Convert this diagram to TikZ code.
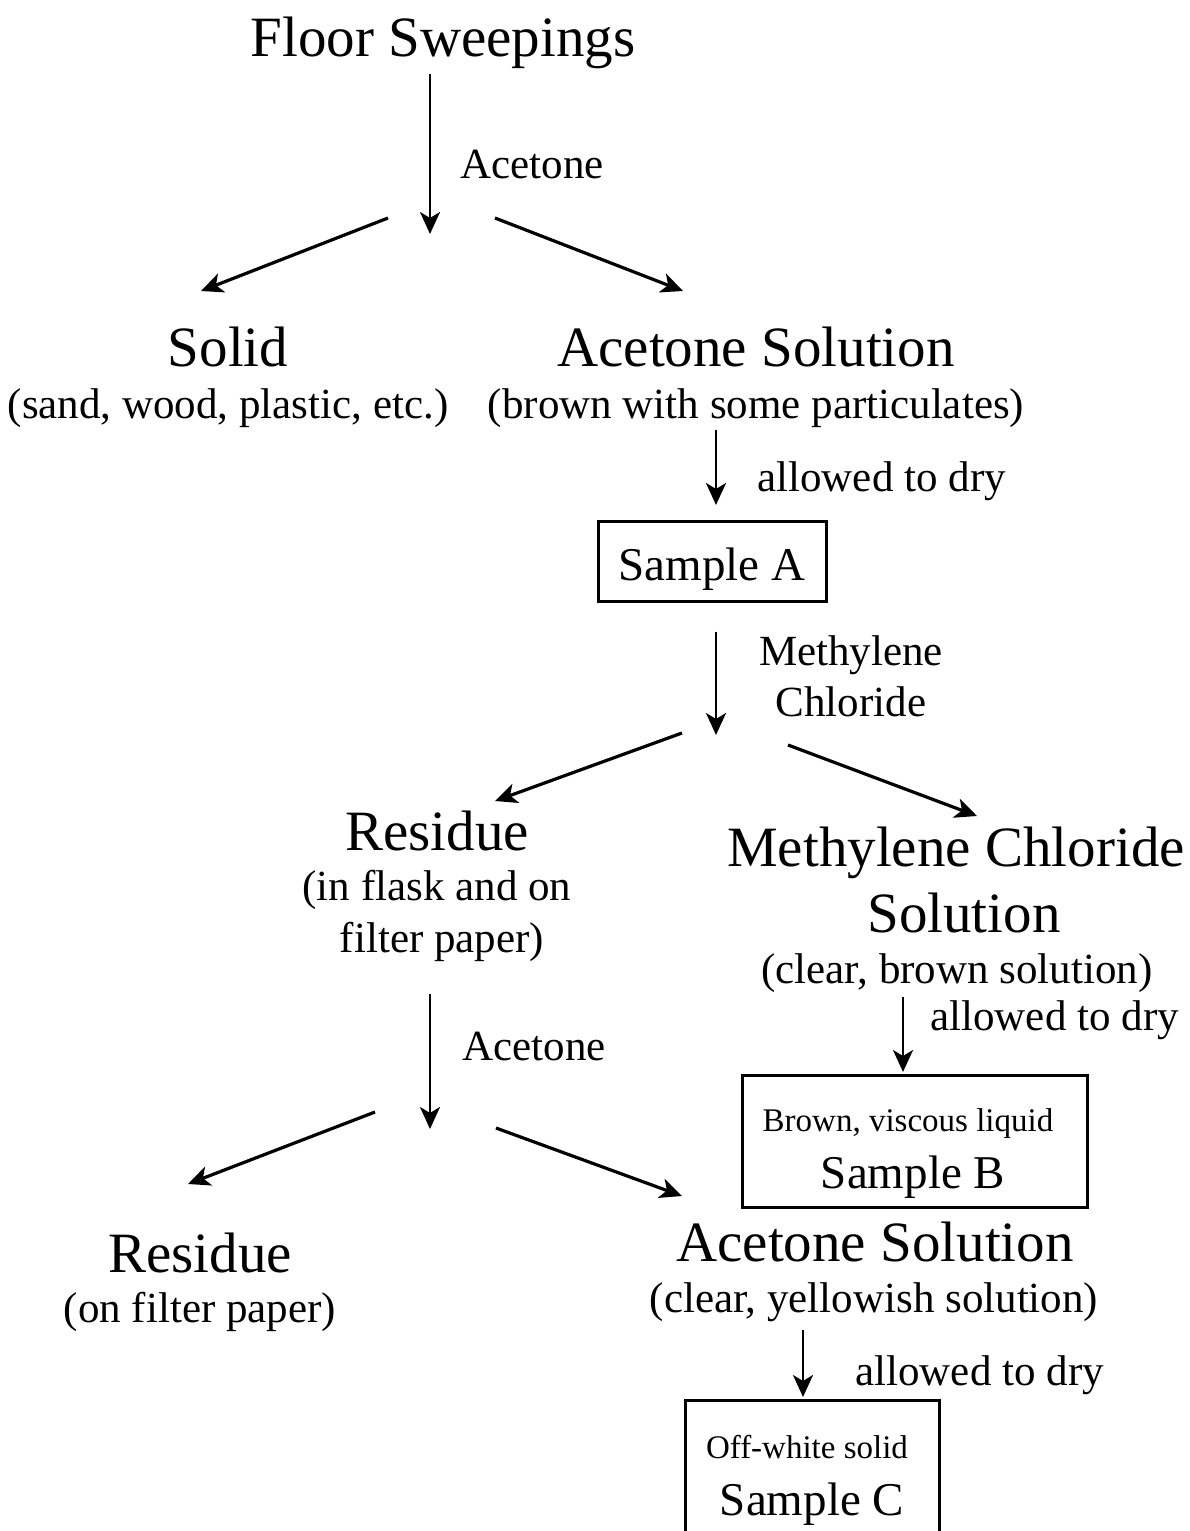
\documentclass[tikz,border=0pt]{standalone}
\usepackage{fontspec}
\setmainfont{Liberation Serif}
\usetikzlibrary{arrows.meta}

\begin{document}
\begin{tikzpicture}[x = 0.5pt, y = -0.5pt,
  big/.style = {font = \fontsize{28.5}{30}\selectfont, inner sep = 0pt, anchor = base},
  mid/.style = {font = \fontsize{21.5}{24}\selectfont, inner sep = 0pt, anchor = base},
  smp/.style = {font = \fontsize{23.5}{26}\selectfont, inner sep = 0pt, anchor = base},
  note/.style = {font = \fontsize{16.5}{18}\selectfont, inner sep = 0pt, anchor = base},
  arr/.style = {-{Stealth[length = 11pt, width = 10pt, inset = 3pt]}, line width = 1.4pt},
  fork/.style = {-{Stealth[length = 11pt, width = 10pt, inset = 3pt]}, line width = 1.6pt},
  box/.style = {draw, line width = 1.5pt, inner sep = 0pt}]
  \useasboundingbox (0, 0) rectangle (1189, 1531);
  \clip (0, 0) rectangle (1189, 1531);

  % first split
  \node[big] (fs) at (443, 56) {Floor Sweepings};
  \node[mid, anchor = base west] (ac1) at (460, 178) {Acetone};
  \node[big] (solid) at (228, 366) {Solid};
  \node[mid] (sand) at (228, 418) {(sand, wood, plastic, etc.)};
  \node[big] (asol) at (756, 366) {Acetone Solution};
  \node[mid] (brown) at (756, 418) {(brown with some particulates)};
  \coordinate (f1) at (430, 234);
  \coordinate (f1l) at (388, 218);
  \coordinate (f1r) at (495, 218);
  \coordinate (t1l) at (201, 291);
  \coordinate (t1r) at (683, 291);
  \draw[arr, shorten <= 2.5pt] (fs.south -| f1) -- (f1);
  \draw[fork] (f1l) -- (t1l);
  \draw[fork] (f1r) -- (t1r);

  % sample A
  \node[mid, anchor = base west] (dry1) at (757, 491) {allowed to dry};
  \node[box, minimum width = 114pt, minimum height = 40pt] (sa) at (712, 561) {};
  \node[smp] (saT) at (712, 580) {Sample A};
  \coordinate (a2) at (716, 505);
  \draw[arr, shorten <= 1pt] (brown.south -| a2) -- (a2);

  % second split
  \node[mid] (mc1) at (851, 665) {Methylene};
  \node[mid] (mc2) at (851, 716) {Chloride};
  \coordinate (f2) at (716, 735);
  \coordinate (f2l) at (682, 733);
  \coordinate (f2r) at (788, 745);
  \coordinate (t2l) at (495, 801);
  \coordinate (t2r) at (977, 816);
  \draw[arr, shorten <= 14.5pt] (sa.south -| f2) -- (f2);
  \draw[fork] (f2l) -- (t2l);
  \draw[fork] (f2r) -- (t2r);

  \node[big] (res) at (437, 850) {Residue};
  \node[mid] (fl1) at (437, 900) {(in flask and on};
  \node[mid] (fl2) at (442, 952) {filter paper)};
  \node[big] (mcs) at (956, 866) {Methylene Chloride};
  \node[big] (sol) at (964, 932) {Solution};
  \node[mid] (cbs) at (957, 983) {(clear, brown solution)};

  % sample B
  \node[mid, anchor = base west] (dry2) at (930, 1030) {allowed to dry};
  \node[box, minimum width = 172.5pt, minimum height = 66pt] (sb) at (914.5, 1141) {};
  \node[note] (bvl) at (908, 1131) {Brown, viscous liquid};
  \node[smp] (sbT) at (913, 1188) {Sample B};
  \coordinate (a5) at (903, 1072);
  \draw[arr, shorten <= 2pt] (cbs.south -| a5) -- (a5);

  % third split
  \node[mid, anchor = base west] (ac3) at (462, 1060) {Acetone};
  \coordinate (f3) at (430, 1129);
  \coordinate (f3l) at (375, 1112);
  \coordinate (f3r) at (496, 1128);
  \coordinate (t3l) at (188, 1184);
  \coordinate (t3r) at (682, 1196);
  \draw[arr, shorten <= 16pt] (fl2.south -| f3) -- (f3);
  \draw[fork] (f3l) -- (t3l);
  \draw[fork] (f3r) -- (t3r);

  \node[big] (res2) at (200, 1272) {Residue};
  \node[mid] (ofp) at (200, 1322) {(on filter paper)};
  \node[big] (asol2) at (875, 1261) {Acetone Solution};
  \node[mid] (cys) at (874, 1312) {(clear, yellowish solution)};

  % sample C
  \node[mid, anchor = base west] (dry3) at (855, 1385) {allowed to dry};
  \node[box, minimum width = 127pt, minimum height = 80pt] (sc) at (812, 1480) {};
  \node[note] (ows) at (807, 1458) {Off-white solid};
  \node[smp] (scT) at (812, 1515) {Sample C};
  \coordinate (a6) at (803, 1397);
  \draw[arr, shorten <= 4pt] (cys.south -| a6) -- (a6);
\end{tikzpicture}
\end{document}
